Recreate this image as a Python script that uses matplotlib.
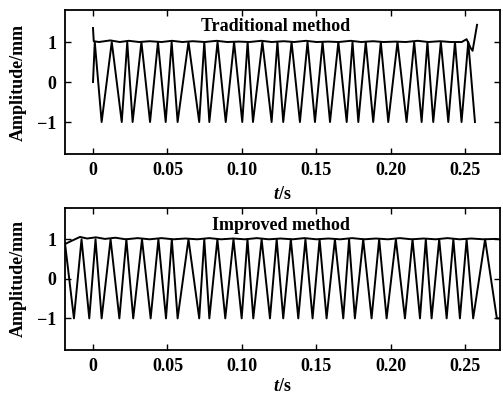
import numpy as np
import matplotlib
matplotlib.use('Agg')
import matplotlib.pyplot as plt

# ---- data (times in s, amplitude in mm) ----
# Traditional method: signal extrema
trad_start_t = [0.0]
trad_start_y = [0.0]
trad_peak_t = [0.0012, 0.0126, 0.0230, 0.0325, 0.0436, 0.0528, 0.0641, 0.0747, 0.0836,
               0.0947, 0.1038, 0.1137, 0.1238, 0.1333, 0.1440, 0.1541, 0.1647, 0.1742,
               0.1831, 0.1932, 0.2044, 0.2156, 0.2245, 0.2335, 0.2430, 0.2519]
trad_trough_t = [0.0058, 0.0193, 0.0266, 0.0383, 0.0488, 0.0568, 0.0713, 0.0781, 0.0891,
                 0.1002, 0.1074, 0.1199, 0.1277, 0.1389, 0.1490, 0.1591, 0.1703, 0.1781,
                 0.1881, 0.1982, 0.2105, 0.2206, 0.2284, 0.2385, 0.2474, 0.2564]
# Traditional method: amplitude envelope
trad_env_t = [0.0, 0.0005, 0.004, 0.0116, 0.018, 0.024, 0.031, 0.038, 0.046, 0.053,
              0.060, 0.067, 0.075, 0.083, 0.090, 0.098, 0.105, 0.113, 0.120, 0.128,
              0.135, 0.143, 0.150, 0.158, 0.165, 0.173, 0.180, 0.188, 0.195, 0.203,
              0.210, 0.218, 0.225, 0.233, 0.240, 0.2475, 0.2508, 0.2535, 0.2548, 0.2578]
trad_env_y = [1.35, 1.02, 1.00, 1.04, 1.00, 1.03, 1.00, 1.02, 1.00, 1.03,
              1.00, 1.02, 1.00, 1.03, 1.00, 1.01, 1.00, 1.03, 1.00, 1.02,
              1.00, 1.03, 1.00, 1.01, 1.00, 1.03, 1.00, 1.02, 1.00, 1.01,
              1.00, 1.03, 1.00, 1.02, 1.00, 1.00, 1.07, 0.85, 0.78, 1.43]

# Improved method: signal extrema
imp_start_t = [-0.0188]
imp_start_y = [0.90]
imp_peak_t = [-0.0077, 0.0017, 0.0118, 0.0224, 0.0329, 0.0439, 0.0529, 0.0641, 0.0747,
              0.0835, 0.0943, 0.1037, 0.1132, 0.1233, 0.1328, 0.1426, 0.1521, 0.1624,
              0.1719, 0.1814, 0.1921, 0.2033, 0.2145, 0.2234, 0.2324, 0.2419, 0.2508, 0.2632]
imp_trough_t = [-0.0128, -0.0025, 0.0058, 0.0177, 0.0270, 0.0387, 0.0490, 0.0568, 0.0713,
                0.0781, 0.0888, 0.0998, 0.1076, 0.1188, 0.1277, 0.1378, 0.1474, 0.1568,
                0.1680, 0.1758, 0.1870, 0.1971, 0.2094, 0.2195, 0.2273, 0.2374, 0.2463,
                0.2552, 0.2711, 0.2732]
# Improved method: amplitude envelope
imp_env_t = [-0.0188, -0.015, -0.0087, -0.004, 0.002, 0.008, 0.015, 0.022, 0.030, 0.038,
             0.046, 0.054, 0.062, 0.070, 0.078, 0.086, 0.094, 0.102, 0.110, 0.118,
             0.126, 0.134, 0.142, 0.150, 0.158, 0.166, 0.174, 0.182, 0.190, 0.198,
             0.206, 0.214, 0.222, 0.230, 0.238, 0.246, 0.254, 0.262, 0.270, 0.2732]
imp_env_y = [0.88, 0.95, 1.06, 1.02, 1.05, 1.01, 1.04, 1.00, 1.03, 1.00,
             1.03, 1.00, 1.02, 1.00, 1.03, 1.00, 1.02, 1.00, 1.03, 1.00,
             1.02, 1.00, 1.03, 1.00, 1.02, 1.00, 1.03, 1.00, 1.02, 1.00,
             1.03, 1.00, 1.02, 1.00, 1.03, 1.00, 1.02, 1.00, 1.01, 1.00]

peak_level = 1.0
trough_level = -1.0

xticks = [0, 0.05, 0.10, 0.15, 0.20, 0.25]
xticklabels = ['0', '0.05', '0.10', '0.15', '0.20', '0.25']
yticks = [-1, 0, 1]
titles = ['Traditional method', 'Improved method']

plt.rcParams['font.family'] = 'Liberation Serif'
plt.rcParams['font.weight'] = 'bold'
plt.rcParams['mathtext.fontset'] = 'custom'
plt.rcParams['mathtext.it'] = 'Liberation Serif:bold:italic'
plt.rcParams['mathtext.rm'] = 'Liberation Serif:bold'
plt.rcParams['mathtext.bf'] = 'Liberation Serif:bold'


def signal(start_t, start_y, peak_t, trough_t):
    t = np.concatenate([start_t, peak_t, trough_t])
    y = np.concatenate([start_y, [peak_level] * len(peak_t), [trough_level] * len(trough_t)])
    order = np.argsort(t, kind='stable')
    return t[order], y[order]


fig = plt.figure(figsize=(5.03, 3.94), dpi=100, facecolor='white')
ax_top = fig.add_axes([0.1292, 0.6091, 0.8648, 0.3655])
ax_bot = fig.add_axes([0.1292, 0.1117, 0.8648, 0.3612])

panels = [
    (ax_top, signal(trad_start_t, trad_start_y, trad_peak_t, trad_trough_t), (trad_env_t, trad_env_y), 0.483, 0.884, -0.222),
    (ax_bot, signal(imp_start_t, imp_start_y, imp_peak_t, imp_trough_t), (imp_env_t, imp_env_y), 0.497, 0.878, -0.2),
]

for i, (ax, (st, sy), (et, ey), tx, ty, ly) in enumerate(panels):
    ax.plot(st, sy, color='black', lw=1.4)
    ax.plot(et, ey, color='black', lw=1.4)
    ax.set_xlim(-0.0188, 0.2732)
    ax.set_ylim(-1.8, 1.8)
    ax.set_xticks(xticks)
    ax.set_xticklabels(xticklabels)
    ax.set_yticks(yticks)
    ax.tick_params(direction='in', length=4, width=1, top=True, right=True,
                   labelsize=13, pad=6)
    for s in ax.spines.values():
        s.set_linewidth(1.3)
    ax.text(tx, ty, titles[i], transform=ax.transAxes, ha='center', va='center',
            fontsize=13, fontweight='bold')
    ax.set_ylabel('Amplitude/mm', fontsize=13, fontweight='bold')
    ax.yaxis.set_label_coords(-0.087, 0.5)
    ax.set_xlabel(r'$t$/s', fontsize=13, fontweight='bold', va='top')
    ax.xaxis.set_label_coords(0.5, ly)

fig.savefig('out.png', dpi=100, facecolor='white')
